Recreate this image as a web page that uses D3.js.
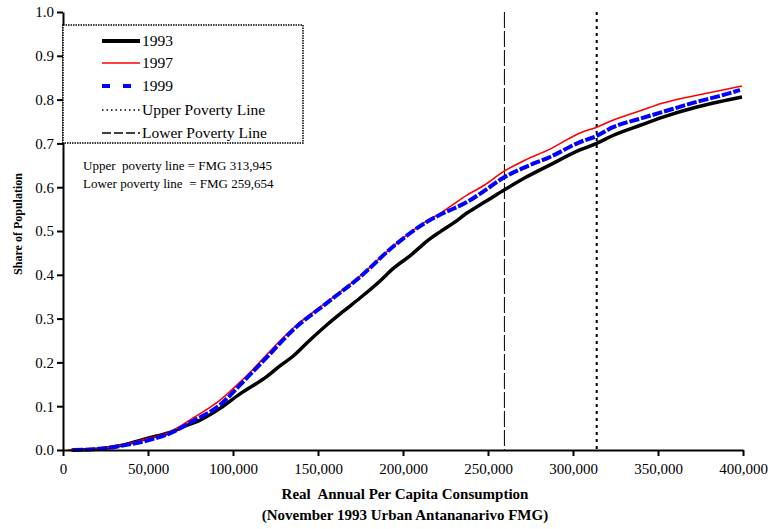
<!DOCTYPE html>
<html>
<head>
<meta charset="utf-8">
<script src="https://cdn.jsdelivr.net/npm/d3@7"></script>
<style>
  html, body { margin: 0; padding: 0; background: #fff; }
  svg { display: block; font-family: "Liberation Serif", "Times New Roman", serif; }
</style>
</head>
<body>
<svg id="chart" width="771" height="529"></svg>
<script>
// ---- data ----
const xTicks = [0, 50000, 100000, 150000, 200000, 250000, 300000, 350000, 400000];
const yTicks = [0, 0.1, 0.2, 0.3, 0.4, 0.5, 0.6, 0.7, 0.8, 0.9, 1.0];

const series1993 = [
  [5000,0],[20000,0.002],[33500,0.010],[45300,0.022],[55000,0.032],[63000,0.040],
  [70000,0.052],[80600,0.068],[92400,0.095],[104100,0.128],[120000,0.168],[127600,0.192],
  [135300,0.214],[145000,0.250],[155300,0.286],[165000,0.317],[174700,0.347],[186500,0.386],
  [194100,0.414],[205000,0.446],[214100,0.477],[221800,0.498],[230000,0.519],[237600,0.541],
  [248000,0.566],[258800,0.592],[272000,0.622],[286500,0.651],[304100,0.685],[313900,0.700],
  [323500,0.718],[340000,0.742],[352900,0.760],[372900,0.783],[386000,0.795],[399400,0.806]
];
const series1997 = [
  [3000,0],[20000,0.002],[35000,0.012],[50000,0.026],[62900,0.041],[76500,0.073],
  [92400,0.114],[104100,0.155],[112000,0.185],[120600,0.221],[135300,0.278],[155300,0.338],
  [174700,0.397],[194100,0.465],[214100,0.523],[221800,0.540],[230000,0.562],[237600,0.582],
  [248000,0.605],[258800,0.635],[272000,0.662],[286500,0.687],[304100,0.724],[313900,0.737],
  [323500,0.753],[340000,0.775],[352900,0.792],[372900,0.810],[386000,0.820],[399400,0.831]
];
const series1999 = [
  [6000,0],[20000,0.002],[35000,0.010],[50000,0.022],[62900,0.038],[76500,0.066],
  [92400,0.103],[104100,0.148],[112000,0.180],[120000,0.212],[135300,0.274],[155300,0.336],
  [174700,0.395],[194100,0.464],[214100,0.521],[221800,0.537],[237600,0.566],[248000,0.592],
  [258800,0.621],[272000,0.646],[286500,0.669],[304100,0.703],[313900,0.717],[323500,0.737],
  [340000,0.757],[352900,0.772],[372900,0.795],[386000,0.808],[398200,0.822]
];
const upperPovertyLine = 313945;
const lowerPovertyLine = 259654;

const legendLabels = ["1993", "1997", "1999", "Upper Poverty Line", "Lower Poverty Line"];
const noteLines = ["Upper  poverty line = FMG 313,945", "Lower poverty line  = FMG 259,654"];
const xTitle = ["Real  Annual Per Capita Consumption", "(November 1993 Urban Antananarivo FMG)"];
const yTitle = "Share of Population";

// ---- drawing ----
const svg = d3.select("#chart");
const L = 63, R = 743, T = 12, B = 450;
const x = d3.scaleLinear().domain([0, 400000]).range([L, R]);
const y = d3.scaleLinear().domain([0, 1]).range([B, T]);

const line = d3.line().x(d => x(d[0])).y(d => y(d[1])).curve(d3.curveMonotoneX);

// poverty lines
svg.append("line")
  .attr("x1", x(lowerPovertyLine)).attr("x2", x(lowerPovertyLine))
  .attr("y1", y(1)).attr("y2", y(0))
  .attr("stroke", "#000").attr("stroke-width", 1).attr("stroke-dasharray", "16,3");
svg.append("line")
  .attr("x1", x(upperPovertyLine)).attr("x2", x(upperPovertyLine))
  .attr("y1", y(1)).attr("y2", y(0))
  .attr("stroke", "#000").attr("stroke-width", 2).attr("stroke-dasharray", "3,4");

// series
svg.append("path").datum(series1993).attr("d", line)
  .attr("fill", "none").attr("stroke", "#000").attr("stroke-width", 3.5);
svg.append("path").datum(series1997).attr("d", line)
  .attr("fill", "none").attr("stroke", "#ff0000").attr("stroke-width", 1.6);
svg.append("path").datum(series1999).attr("d", line)
  .attr("fill", "none").attr("stroke", "#0000ff").attr("stroke-width", 4)
  .attr("stroke-dasharray", "10,2");

// axes
const xAxis = d3.axisBottom(x).tickValues(xTicks).tickSize(6).tickSizeOuter(0)
  .tickFormat(d => d === 0 ? "0" : d3.format(",")(d));
const gx = svg.append("g").attr("transform", `translate(0,${B})`).call(xAxis);
gx.select(".domain").attr("stroke-width", 2);
gx.selectAll(".tick line").attr("stroke-width", 2);
gx.selectAll("text").attr("font-family", "Liberation Serif").attr("font-size", 15)
  .attr("dy", "0.71em").attr("y", 13);

const yAxis = d3.axisLeft(y).tickValues(yTicks).tickSize(6).tickSizeOuter(0)
  .tickFormat(d3.format(".1f"));
const gy = svg.append("g").attr("transform", `translate(${L},0)`).call(yAxis);
gy.select(".domain").attr("stroke-width", 2);
gy.selectAll(".tick line").attr("stroke-width", 2);
gy.selectAll("text").attr("font-family", "Liberation Serif").attr("font-size", 15).attr("x", -9);

// legend
const lg = svg.append("g");
lg.append("rect").attr("x", 63).attr("y", 25).attr("width", 240).attr("height", 118)
  .attr("fill", "#fff").attr("stroke", "#000").attr("stroke-width", 1.5)
  .attr("stroke-dasharray", "1.5,1");
const legRows = [
  {label: legendLabels[0], stroke: "#000", w: 4, dash: null, y: 41},
  {label: legendLabels[1], stroke: "#ff0000", w: 1.5, dash: null, y: 63},
  {label: legendLabels[2], stroke: "#0000ff", w: 4, dash: "8,13", y: 86},
  {label: legendLabels[3], stroke: "#000", w: 1.5, dash: "1.5,3", y: 110},
  {label: legendLabels[4], stroke: "#000", w: 1.5, dash: "9,3", y: 133}
];
legRows.forEach(r => {
  lg.append("line").attr("x1", 102).attr("x2", 140).attr("y1", r.y).attr("y2", r.y)
    .attr("stroke", r.stroke).attr("stroke-width", r.w)
    .attr("stroke-dasharray", r.dash);
  lg.append("text").attr("x", 142).attr("y", r.y).attr("dy", "0.35em")
    .attr("font-size", 15.5).text(r.label);
});

// notes
noteLines.forEach((t, i) => {
  svg.append("text").attr("x", 83).attr("y", 165 + i * 18).attr("dy", "0.35em")
    .attr("font-size", 13).style("white-space", "pre").text(t);
});

// axis titles
svg.append("text").attr("x", 405).attr("y", 494).attr("dy", "0.35em")
  .attr("text-anchor", "middle").attr("font-weight", "bold").attr("font-size", 15)
  .style("white-space", "pre").text(xTitle[0]);
svg.append("text").attr("x", 405).attr("y", 515).attr("dy", "0.35em")
  .attr("text-anchor", "middle").attr("font-weight", "bold").attr("font-size", 15)
  .text(xTitle[1]);
svg.append("text").attr("transform", `translate(18,224) rotate(-90)`).attr("dy", "0.35em")
  .attr("text-anchor", "middle").attr("font-weight", "bold").attr("font-size", 12)
  .text(yTitle);
</script>
</body>
</html>
